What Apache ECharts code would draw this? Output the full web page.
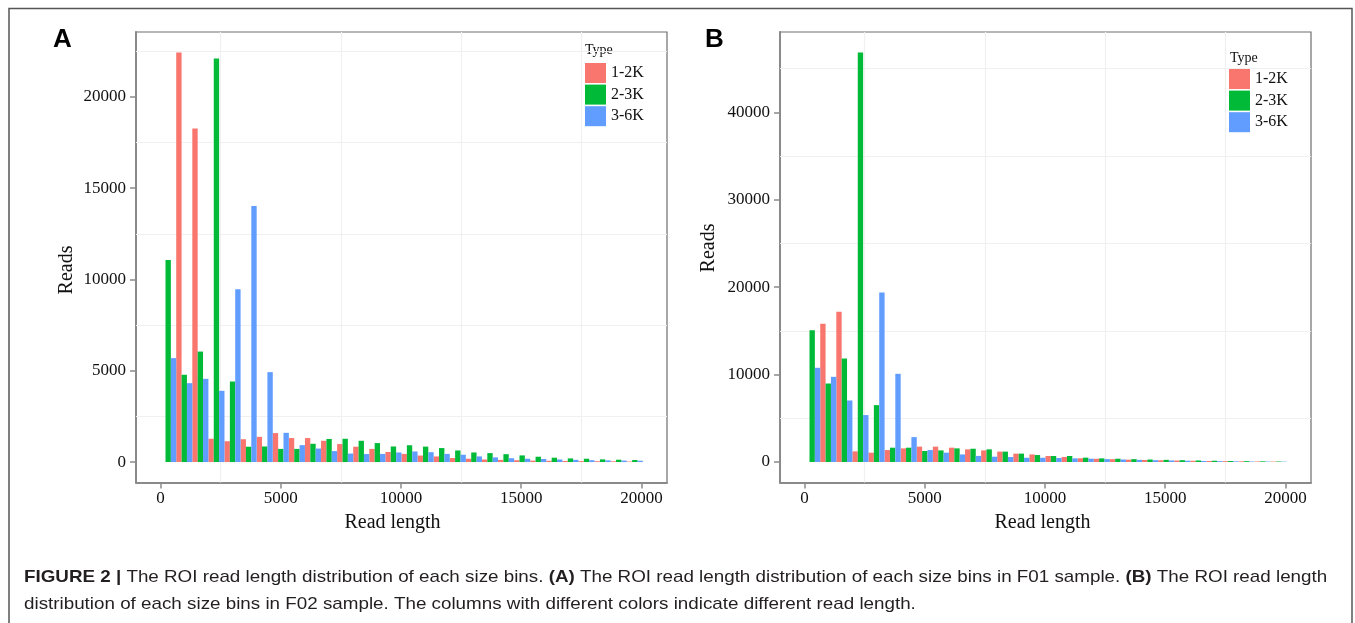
<!DOCTYPE html>
<html><head><meta charset="utf-8">
<script src="https://cdn.jsdelivr.net/npm/echarts@6/dist/echarts.min.js"></script>
<style>html,body{margin:0;padding:0;background:#fff}#c{width:1355px;height:623px}</style>
</head><body><div id="c"></div>
<script>
// Bin centres of the 30 histogram bins (read length, bp)
const binCenters = [322, 991, 1660, 2329, 2998, 3667, 4336, 5005, 5674, 6343, 7012, 7681, 8350, 9019, 9688,
  10357, 11026, 11695, 12364, 13033, 13702, 14371, 15040, 15709, 16378, 17047, 17716, 18385, 19054, 19723];
const typeNames = ['1-2K', '2-3K', '3-6K'];
const typeColors = ['#F8766D', '#00BA38', '#619CFF'];

// Panel A (F01)
const redA   = [0, 22430, 18270, 1275, 1140, 1250, 1380, 1586, 1313, 1313, 1165, 985, 840, 720, 550, 445, 355, 306, 219, 182, 140, 118, 100, 80, 70, 60, 50, 45, 40, 30];
const greenA = [11060, 4780, 6050, 22100, 4410, 840, 853, 720, 720, 1000, 1265, 1275, 1165, 1039, 853, 920, 845, 766, 635, 525, 490, 430, 364, 291, 237, 200, 182, 146, 128, 110];
const blueA  = [5690, 4320, 4557, 3900, 9464, 14020, 4923, 1600, 925, 740, 600, 465, 437, 445, 525, 580, 540, 445, 400, 308, 255, 210, 182, 164, 140, 120, 100, 91, 80, 73];
// Panel B (F02)
const redB   = [0, 15830, 17200, 1220, 1070, 1370, 1560, 1760, 1760, 1640, 1450, 1330, 1190, 960, 870, 690, 570, 430, 370, 320, 270, 230, 200, 170, 140, 120, 100, 80, 60, 50];
const greenB = [15070, 8980, 11840, 46850, 6510, 1640, 1640, 1260, 1330, 1560, 1520, 1450, 1190, 960, 800, 690, 690, 500, 420, 380, 330, 290, 250, 210, 180, 150, 120, 100, 80, 60];
const blueB  = [10780, 9745, 7040, 5370, 19400, 10090, 2850, 1370, 1070, 870, 700, 610, 570, 490, 490, 460, 420, 380, 330, 290, 250, 210, 180, 150, 120, 100, 80, 60, 50, 40];

const xTicks = [0, 5000, 10000, 15000, 20000];
const yTicksA = [0, 5000, 10000, 15000, 20000];
const yTicksB = [0, 10000, 20000, 30000, 40000];
const xGridLines = [2500, 7500, 12500, 17500];
const yGridLinesA = [2500, 7500, 12500, 17500, 22500];
const yGridLinesB = [5000, 15000, 25000, 35000, 45000];

const SERIF = 'Liberation Serif';
const axisGray = '#8a8a8a';
const plain = v => String(v);

function xAxisFor(gi, namePad) {
  return {
    gridIndex: gi, type: 'value', min: -1016, max: 21062,
    axisLine: { show: true, onZero: false, lineStyle: { color: axisGray, width: 2 } },
    axisTick: { show: true, customValues: xTicks, length: 6, lineStyle: { color: axisGray, width: 1.5 } },
    axisLabel: { customValues: xTicks, formatter: plain, margin: 8, fontFamily: SERIF, fontSize: 17, color: '#111' },
    splitLine: { show: false },
    name: 'Read length', nameLocation: 'middle', nameGap: 29,
    nameTextStyle: { fontFamily: SERIF, fontSize: 20, color: '#111', padding: namePad }
  };
}
function yAxisFor(gi, max, min, ticks) {
  return {
    gridIndex: gi, type: 'value', min: min, max: max,
    axisLine: { show: true, onZero: false, lineStyle: { color: axisGray, width: 2 } },
    axisTick: { show: true, customValues: ticks, length: 6, lineStyle: { color: axisGray, width: 1.5 } },
    axisLabel: { customValues: ticks, formatter: plain, margin: 10, fontFamily: SERIF, fontSize: 17, color: '#111' },
    splitLine: { show: false }
  };
}
function barSeries(gi, name, color, vals) {
  return {
    type: 'bar', name: name, xAxisIndex: gi, yAxisIndex: gi,
    data: binCenters.map((c, i) => [c, vals[i]]),
    barGap: '0%', barCategoryGap: '0%',
    itemStyle: { color: color }, z: 3, animation: false
  };
}
function gridSeries(gi, yLines) {
  return {
    type: 'line', xAxisIndex: gi, yAxisIndex: gi, data: [], silent: true, animation: false,
    markLine: {
      silent: true, symbol: 'none', animation: false, z: 1,
      label: { show: false },
      lineStyle: { color: '#f0f0f0', width: 1.2, type: 'solid' },
      data: xGridLines.map(v => ({ xAxis: v })).concat(yLines.map(v => ({ yAxis: v })))
    }
  };
}
function legendFor(left, top) {
  return {
    data: typeNames, left: left, top: top, orient: 'vertical',
    itemWidth: 21, itemHeight: 20, itemGap: 1.6, icon: 'rect', selectedMode: false,
    textStyle: { fontFamily: SERIF, fontSize: 16, color: '#111', padding: [3, 0, 0, 0] }
  };
}
function readsTitle(x, y) {
  return { type: 'text', x: x, y: y, rotation: Math.PI / 2,
    style: { text: 'Reads', fontFamily: SERIF, fontSize: 20, fill: '#111', align: 'center', verticalAlign: 'middle' } };
}

const chart = echarts.init(document.getElementById('c'), null, { renderer: 'canvas' });
chart.setOption({
  backgroundColor: '#fff',
  animation: false,
  grid: [
    { left: 136, top: 32, width: 531, height: 450.5, show: true, borderColor: '#6e6e6e', borderWidth: 1.2, backgroundColor: '#fff' },
    { left: 780, top: 32, width: 531, height: 450.5, show: true, borderColor: '#6e6e6e', borderWidth: 1.2, backgroundColor: '#fff' }
  ],
  xAxis: [xAxisFor(0, [0, 18, 0, 0]), xAxisFor(1, [0, 6, 0, 0])],
  yAxis: [yAxisFor(0, 23550, -1120, yTicksA), yAxisFor(1, 49190, -2342, yTicksB)],
  legend: [legendFor(580, 58), legendFor(1224, 64)],
  series: [
    gridSeries(0, yGridLinesA),
    barSeries(0, typeNames[0], typeColors[0], redA),
    barSeries(0, typeNames[1], typeColors[1], greenA),
    barSeries(0, typeNames[2], typeColors[2], blueA),
    gridSeries(1, yGridLinesB),
    barSeries(1, typeNames[0], typeColors[0], redB),
    barSeries(1, typeNames[1], typeColors[1], greenB),
    barSeries(1, typeNames[2], typeColors[2], blueB)
  ],
  graphic: [
    { type: 'rect', shape: { x: 9, y: 8.5, width: 1343, height: 700 }, style: { fill: 'none', stroke: '#555', lineWidth: 1.5 }, silent: true, z: -1 },
    { type: 'text', x: 53, y: 27, style: { text: 'A', fontFamily: 'Liberation Sans', fontWeight: 'bold', fontSize: 26, fill: '#000', verticalAlign: 'top' } },
    { type: 'text', x: 705, y: 27, style: { text: 'B', fontFamily: 'Liberation Sans', fontWeight: 'bold', fontSize: 26, fill: '#000', verticalAlign: 'top' } },
    { type: 'text', x: 585, y: 50, style: { text: 'Type', fontFamily: SERIF, fontSize: 14, fill: '#111', verticalAlign: 'middle' } },
    { type: 'text', x: 1230, y: 58, style: { text: 'Type', fontFamily: SERIF, fontSize: 14, fill: '#111', verticalAlign: 'middle' } },
    readsTitle(67, 270),
    readsTitle(709, 248),
    { type: 'text', x: 24, y: 563.5, scaleX: 1.106, style: {
        text: '{b|FIGURE 2 |}{n| The ROI read length distribution of each size bins. }{b|(A)}{n| The ROI read length distribution of each size bins in F01 sample. }{b|(B)}{n| The ROI read length}\n{n|distribution of each size bins in F02 sample. The columns with different colors indicate different read length.}',
        fontFamily: 'Liberation Sans', fontSize: 17, fill: '#231f20', lineHeight: 27, verticalAlign: 'top',
        rich: {
          b: { fontFamily: 'Liberation Sans', fontSize: 17, fontWeight: 'bold', fill: '#231f20', lineHeight: 27 },
          n: { fontFamily: 'Liberation Sans', fontSize: 17, fontWeight: 'normal', fill: '#231f20', lineHeight: 27 }
        }
      } }
  ]
});
</script></body></html>
